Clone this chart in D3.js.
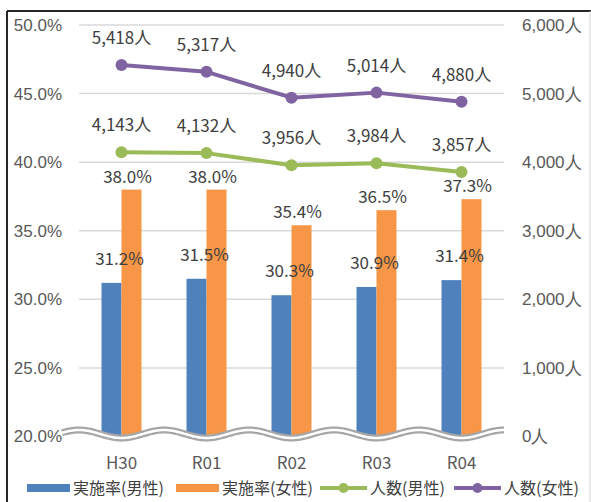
<!DOCTYPE html>
<html>
<head>
<meta charset="utf-8">
<script src="https://cdn.jsdelivr.net/npm/d3@7"></script>
<style>
  html, body { margin: 0; padding: 0; background: #fff; }
  svg { display: block; font-family: "Noto Sans CJK JP", "Noto Sans", sans-serif; }
</style>
</head>
<body>
<svg id="chart"></svg>
<script>
const categories = ["H30", "R01", "R02", "R03", "R04"];
const rateMale = [31.2, 31.5, 30.3, 30.9, 31.4];
const rateFemale = [38.0, 38.0, 35.4, 36.5, 37.3];
const countMale = [4143, 4132, 3956, 3984, 3857];
const countFemale = [5418, 5317, 4940, 5014, 4880];
const rateTicks = [20, 25, 30, 35, 40, 45, 50];
const countTicks = [0, 1000, 2000, 3000, 4000, 5000, 6000];
const legendNames = ["実施率(男性)", "実施率(女性)", "人数(男性)", "人数(女性)"];

const width = 591, height = 502;
const colors = { blue: "#4f81bd", orange: "#f79646", green: "#9bbb59", purple: "#8064a2" };

const svg = d3.select("#chart").attr("width", width).attr("height", height);

// frame
svg.append("line").attr("x1", 7).attr("x2", width).attr("y1", 11).attr("y2", 11)
  .attr("stroke", "#262626").attr("stroke-width", 2);
svg.append("line").attr("x1", 7).attr("x2", 7).attr("y1", 11).attr("y2", height)
  .attr("stroke", "#262626").attr("stroke-width", 2);
svg.append("line").attr("x1", 590).attr("x2", 590).attr("y1", 11).attr("y2", height)
  .attr("stroke", "#d0d0d0").attr("stroke-width", 1);

const x0 = d3.scaleBand().domain(categories).range([79, 504]);
const bw = x0.bandwidth();
const x1 = d3.scaleBand().domain(["m", "f"]).range([bw / 2 - 20, bw / 2 + 20]);

const yL = d3.scaleLinear().domain([20, 50]).range([436.5, 25]);
const yR = d3.scaleLinear().domain([0, 6000]).range([436.5, 25]);

// gridlines
svg.append("g").selectAll("line")
  .data(rateTicks.filter(t => t > 20))
  .join("line")
  .attr("x1", 79).attr("x2", 504)
  .attr("y1", d => yL(d)).attr("y2", d => yL(d))
  .attr("stroke", "#d9d9d9").attr("stroke-width", 1.5);

// left axis
const axisL = svg.append("g").attr("transform", "translate(62,0)")
  .call(d3.axisLeft(yL).tickValues(rateTicks).tickFormat(d => d.toFixed(1) + "%").tickSize(0).tickPadding(0));
axisL.select(".domain").remove();
axisL.selectAll("text").attr("font-size", 17).attr("fill", "#595959").attr("font-family", null);

// right axis
const axisR = svg.append("g").attr("transform", "translate(522,0)")
  .call(d3.axisRight(yR).tickValues(countTicks).tickFormat(d => d3.format(",")(d) + "人").tickSize(0).tickPadding(0));
axisR.select(".domain").remove();
axisR.selectAll("text").attr("font-size", 17).attr("fill", "#595959").attr("font-family", null);

// bars
const groups = svg.append("g").selectAll("g")
  .data(categories)
  .join("g")
  .attr("transform", d => `translate(${x0(d)},0)`);

groups.append("rect")
  .attr("x", x1("m")).attr("width", x1.bandwidth())
  .attr("y", (d, i) => yL(rateMale[i]))
  .attr("height", (d, i) => yL(20) - yL(rateMale[i]))
  .attr("fill", colors.blue);

groups.append("rect")
  .attr("x", x1("f")).attr("width", x1.bandwidth())
  .attr("y", (d, i) => yL(rateFemale[i]))
  .attr("height", (d, i) => yL(20) - yL(rateFemale[i]))
  .attr("fill", colors.orange);

groups.append("text")
  .attr("x", x1("m") + x1.bandwidth() / 2 + 8)
  .attr("y", (d, i) => yL(rateMale[i]) - 24)
  .attr("dy", "0.35em")
  .attr("text-anchor", "middle").attr("font-size", 17).attr("fill", "#404040")
  .text((d, i) => rateMale[i].toFixed(1) + "%");

groups.append("text")
  .attr("x", x1("f") + x1.bandwidth() / 2 - 4)
  .attr("y", (d, i) => yL(rateFemale[i]) - 13)
  .attr("dy", "0.35em")
  .attr("text-anchor", "middle").attr("font-size", 17).attr("fill", "#404040")
  .text((d, i) => rateFemale[i].toFixed(1) + "%");

// axis break wave
const waveY = 434, amp = 4;
const wavePts = d3.range(62, 504.5, 1).map(x => [x, waveY - amp * Math.cos(2 * Math.PI * (x - 79) / bw)]);
const waveLine = d3.line();
svg.append("path").attr("d", waveLine(wavePts)).attr("fill", "none")
  .attr("stroke", "#a6a6a6").attr("stroke-width", 7);
svg.append("path").attr("d", waveLine(wavePts)).attr("fill", "none")
  .attr("stroke", "#fff").attr("stroke-width", 2.5);

// category labels
svg.append("g").selectAll("text")
  .data(categories)
  .join("text")
  .attr("x", d => x0(d) + bw / 2).attr("y", 463).attr("dy", "0.35em")
  .attr("text-anchor", "middle").attr("font-size", 17).attr("fill", "#595959")
  .text(d => d);

// lines
function drawSeries(values, color) {
  const pts = values.map((v, i) => [x0(categories[i]) + bw / 2, yR(v)]);
  svg.append("path").attr("d", d3.line()(pts)).attr("fill", "none")
    .attr("stroke", color).attr("stroke-width", 4).attr("stroke-linejoin", "round");
  svg.append("g").selectAll("circle").data(pts).join("circle")
    .attr("cx", d => d[0]).attr("cy", d => d[1]).attr("r", 6).attr("fill", color);
  svg.append("g").selectAll("text").data(values).join("text")
    .attr("x", (v, i) => pts[i][0]).attr("y", v => yR(v) - 27).attr("dy", "0.35em")
    .attr("text-anchor", "middle").attr("font-size", 17).attr("fill", "#404040")
    .text(v => d3.format(",")(v) + "人");
}
drawSeries(countMale, colors.green);
drawSeries(countFemale, colors.purple);

// legend
const legendY = 488;
const legendItems = [
  { name: legendNames[0], color: colors.blue, type: "rect", x: 27 },
  { name: legendNames[1], color: colors.orange, type: "rect", x: 176 },
  { name: legendNames[2], color: colors.green, type: "line", x: 320 },
  { name: legendNames[3], color: colors.purple, type: "line", x: 454 }
];
const leg = svg.append("g").selectAll("g").data(legendItems).join("g")
  .attr("transform", d => `translate(${d.x},${legendY})`);
leg.filter(d => d.type === "rect").append("rect")
  .attr("x", 0).attr("y", -4).attr("width", 43).attr("height", 8).attr("fill", d => d.color);
leg.filter(d => d.type === "line").append("line")
  .attr("x1", 0).attr("x2", 47).attr("y1", 0).attr("y2", 0)
  .attr("stroke", d => d.color).attr("stroke-width", 4);
leg.filter(d => d.type === "line").append("circle")
  .attr("cx", 23.5).attr("cy", 0).attr("r", 5).attr("fill", d => d.color);
leg.append("text")
  .attr("x", d => d.type === "rect" ? 46 : 50).attr("y", 0).attr("dy", "0.35em")
  .attr("font-size", 16).attr("fill", "#404040")
  .text(d => d.name);
</script>
</body>
</html>
